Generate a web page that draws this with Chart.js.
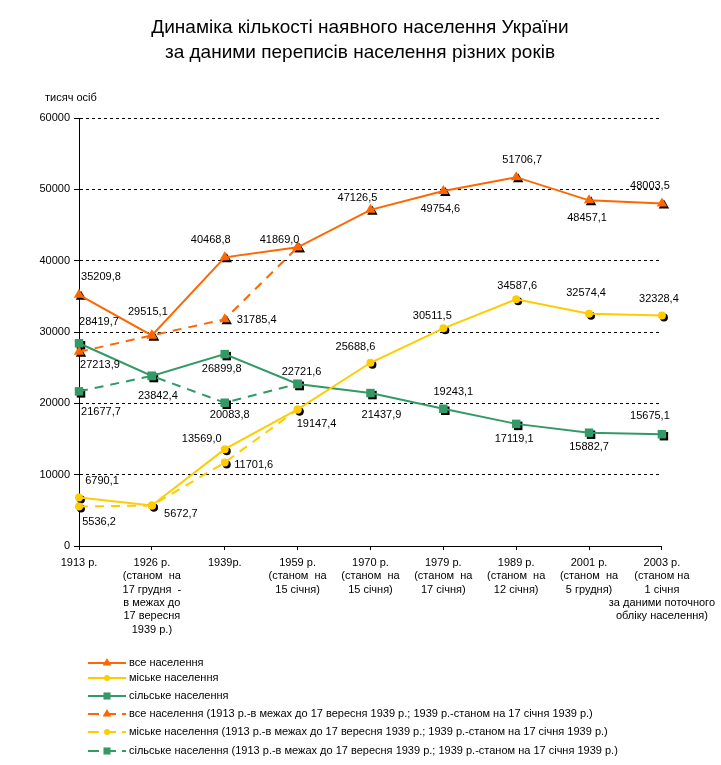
<!DOCTYPE html>
<html>
<head>
<meta charset="utf-8">
<script src="https://cdn.jsdelivr.net/npm/chart.js"></script>
<style>
  body { margin: 0; background: #fff; }
  #wrap { width: 721px; height: 765px; }
</style>
</head>
<body>
<div id="wrap"><canvas id="popChart" width="721" height="765"></canvas></div>
<script>
// census years (multi-line tick labels)
const years = [
    ["1913 р."],
    ["1926 р.", "(станом  на", "17 грудня  -", "в межах до", "17 вересня", "1939 р.)"],
    ["1939р."],
    ["1959 р.", "(станом  на", "15 січня)"],
    ["1970 р.", "(станом  на", "15 січня)"],
    ["1979 р.", "(станом  на", "17 січня)"],
    ["1989 р.", "(станом  на", "12 січня)"],
    ["2001 р.", "(станом  на", "5 грудня)"],
    ["2003 р.", "(станом на", "1 січня", "за даними поточного", "обліку населення)"]
];

// thousand persons
const allPop   = [35209.8, 29515.1, 40468.8, 41869.0, 47126.5, 49754.6, 51706.7, 48457.1, 48003.5];
const urbanPop = [6790.1, 5672.7, 13569.0, 19147.4, 25688.6, 30511.5, 34587.6, 32574.4, 32328.4];
const ruralPop = [28419.7, 23842.4, 26899.8, 22721.6, 21437.9, 19243.1, 17119.1, 15882.7, 15675.1];

// 1913 within borders before 17 Sep 1939; 1939 as of 17 Jan 1939
const allOld   = [27213.9, 29515.1, 31785.4, 41869.0, null, null, null, null, null];
const urbanOld = [5536.2, 5672.7, 11701.6, 19147.4, null, null, null, null, null];
const ruralOld = [21677.7, 23842.4, 20083.8, 22721.6, null, null, null, null, null];

const yTicks = [0, 10000, 20000, 30000, 40000, 50000, 60000];

const seriesNames = [
    "все населення",
    "міське населення",
    "сільське населення",
    "все населення (1913 р.-в межах до 17 вересня 1939 р.; 1939 р.-станом на 17 січня 1939 р.)",
    "міське населення (1913 р.-в межах до 17 вересня 1939 р.; 1939 р.-станом на 17 січня 1939 р.)",
    "сільське населення (1913 р.-в межах до 17 вересня 1939 р.; 1939 р.-станом на 17 січня 1939 р.)"
];

// where each value label sits relative to its point (px)
const labelOffsets = [
    [[22, -18], [-4, -23], [-14, -17], [-18, -7], [-13, -12], [-3, 18], [6, -17], [-2, 18], [-12, -18]],
    [[23, -17], [29, 8], [-23, -10], [19, 15], [-15, -16], [-11, -12], [1, -13], [-3, -21], [-3, -16]],
    [[20, -21], [6, 20], [-3, 15], [4, -12], [11, 22], [10, -17], [-2, 15], [0, 14], [-12, -18]],
    [[21, 13], null, [32, 1], null],
    [[20, 15], null, [29, 2], null],
    [[22, 21], null, [5, 12], null]
];

const ORANGE = "#FF6600", YELLOW = "#FFCC00", GREEN = "#339966";
const FONT = "'Liberation Sans', Arial, sans-serif";
Chart.defaults.font.family = FONT;
Chart.defaults.color = "#000";

function marker(ctx, style, r, x, y) {
    ctx.beginPath();
    if (style === "triangle") {
        ctx.moveTo(x, y - r);
        ctx.lineTo(x + r * 0.866, y + r * 0.5);
        ctx.lineTo(x - r * 0.866, y + r * 0.5);
        ctx.closePath();
    } else if (style === "rect") {
        let s = r * Math.SQRT1_2;
        ctx.rect(x - s, y - s, 2 * s, 2 * s);
    } else {
        ctx.arc(x, y, r, 0, Math.PI * 2);
    }
    ctx.fill();
}

function makeSet(i, data, color, style, radius, dashed) {
    return {
        label: seriesNames[i],
        data: data,
        borderColor: color,
        backgroundColor: color,
        borderWidth: 2,
        borderDash: dashed ? [9, 7] : [],
        pointStyle: style,
        pointRadius: radius,
        pointHoverRadius: radius,
        pointBorderWidth: 0,
        pointBackgroundColor: color,
        tension: 0,
        spanGaps: false,
        fill: false,
        order: dashed ? 2 : 1
    };
}

const decor = {
    id: "decor",
    beforeDatasetsDraw(chart) {
        // black marker shadows
        const ctx = chart.ctx;
        ctx.save();
        ctx.fillStyle = "#000";
        chart.data.datasets.forEach((ds, i) => {
            chart.getDatasetMeta(i).data.forEach((pt, j) => {
                if (ds.data[j] == null) return;
                marker(ctx, ds.pointStyle, ds.pointRadius, pt.x + 2, pt.y + 2);
            });
        });
        ctx.restore();
    },
    afterDraw(chart) {
        const ctx = chart.ctx;
        ctx.save();
        ctx.fillStyle = "#000";
        ctx.textAlign = "center";
        ctx.textBaseline = "middle";

        // title
        ctx.font = "19px " + FONT;
        ctx.fillText("Динаміка кількості наявного населення України", 360, 28);
        ctx.fillText("за даними переписів населення різних років", 360, 53);

        // unit
        ctx.font = "11px " + FONT;
        ctx.textAlign = "left";
        ctx.fillText("тисяч осіб", 45, 98);

        // value labels
        ctx.font = "11px " + FONT;
        ctx.textAlign = "center";
        chart.data.datasets.forEach((ds, i) => {
            chart.getDatasetMeta(i).data.forEach((pt, j) => {
                const off = labelOffsets[i][j];
                if (!off || ds.data[j] == null) return;
                ctx.fillText(ds.data[j].toFixed(1).replace(".", ","), pt.x + off[0], pt.y + off[1]);
            });
        });

        // legend
        const rows = [663, 678, 696, 714, 732, 751];
        ctx.textAlign = "left";
        chart.data.datasets.forEach((ds, i) => {
            const y = rows[i];
            ctx.strokeStyle = ds.borderColor;
            ctx.lineWidth = 2;
            ctx.setLineDash(ds.borderDash.length ? [11, 6] : []);
            ctx.beginPath();
            ctx.moveTo(88, y);
            ctx.lineTo(126, y);
            ctx.stroke();
            ctx.fillStyle = ds.borderColor;
            marker(ctx, ds.pointStyle, ds.pointStyle === "circle" ? 3 : 5, 107, y);
            ctx.fillStyle = "#000";
            ctx.fillText(ds.label, 129, y);
        });
        ctx.restore();
    }
};

new Chart(document.getElementById("popChart"), {
    type: "line",
    data: {
        labels: years,
        datasets: [
            makeSet(0, allPop, ORANGE, "triangle", 6, false),
            makeSet(1, urbanPop, YELLOW, "circle", 4, false),
            makeSet(2, ruralPop, GREEN, "rect", 6, false),
            makeSet(3, allOld, ORANGE, "triangle", 6, true),
            makeSet(4, urbanOld, YELLOW, "circle", 4, true),
            makeSet(5, ruralOld, GREEN, "rect", 6, true)
        ]
    },
    options: {
        responsive: false,
        animation: false,
        devicePixelRatio: 1,
        layout: { padding: { left: 0, right: 59, top: 118, bottom: 0 } },
        plugins: {
            legend: { display: false },
            title: { display: false },
            tooltip: { enabled: false }
        },
        scales: {
            x: {
                offset: false,
                afterFit: (s) => { s.height = 219; },
                grid: { display: true, drawOnChartArea: false, color: "#000", tickLength: 4 },
                border: { color: "#000", width: 1 },
                ticks: {
                    autoSkip: false, maxRotation: 0, minRotation: 0, padding: 6,
                    font: { size: 11, lineHeight: 1.22 }, color: "#000"
                }
            },
            y: {
                min: 0, max: 60000,
                afterFit: (s) => { s.width = 79; },
                afterBuildTicks: (s) => { s.ticks = yTicks.map(v => ({ value: v })); },
                grid: { color: "#000", lineWidth: 1, tickLength: 5, tickColor: "#000" },
                border: { color: "#000", width: 1, dash: [3, 3] },
                ticks: {
                    padding: 4, font: { size: 11 }, color: "#000",
                    callback: (v) => String(v)
                }
            }
        }
    },
    plugins: [decor]
});
</script>
</body>
</html>
